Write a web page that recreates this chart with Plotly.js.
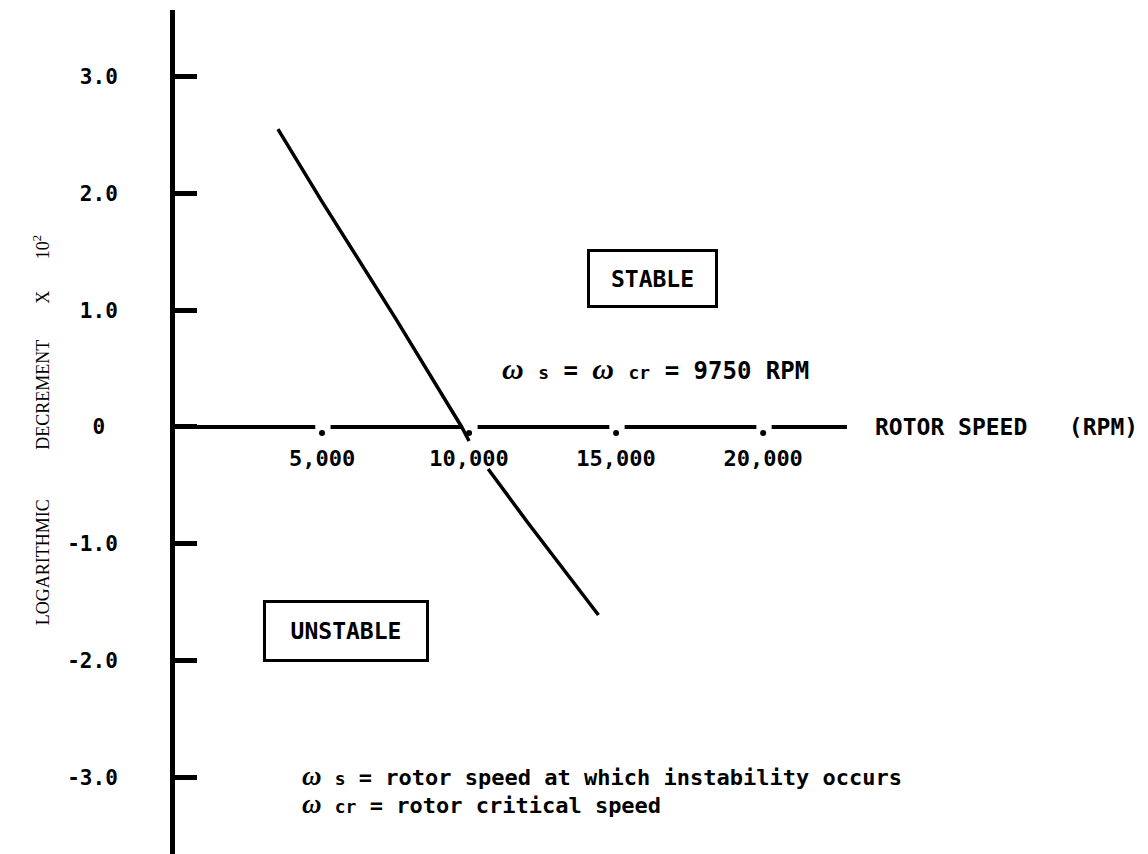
<!DOCTYPE html>
<html>
<head>
<meta charset="utf-8">
<script src="https://cdn.plot.ly/plotly-3.0.1.min.js"></script>
<style>
  html, body { margin: 0; padding: 0; background: #fff; }
  #chart { width: 1148px; height: 854px; }
</style>
</head>
<body>
<div id="chart"></div>
<script>
// Stability curve: logarithmic decrement (x 10^2) against rotor speed (RPM).
// The curve is broken where it passes behind the 10,000 label.
const speedUpper = [3500, 5000, 7500, 9750, 10000];
const decUpper   = [2.55, 1.93, 0.93, 0.0, -0.12];
const speedLower = [10650, 12000, 14400];
const decLower   = [-0.36, -0.82, -1.61];

const xTickVals = [5000, 10000, 15000, 20000];
const xTickText = ['5,000', '10,000', '15,000', '20,000'];
const yTickVals = [-3, -2, -1, 0, 1, 2, 3];
const yTickText = ['-3.0', '-2.0', '-1.0', '0\u00a0', '1.0', '2.0', '3.0'];
const axisEnd = 22850;          // where the drawn speed axis stops (RPM)
const criticalSpeed = 9750;     // RPM

// ---- geometry -------------------------------------------------------
const W = 1148, H = 854;
const margin = { l: 175, r: 32, t: 10, b: 0, pad: 0 };
const xRange = [0, 32000];
const yRange = [-3.656, 3.570];
const plotH = H - margin.t - margin.b;
const pxPerUnit = plotH / (yRange[1] - yRange[0]);
const zeroFrac = (0 - yRange[0]) / (yRange[1] - yRange[0]);

const ink = '#000';
const mono = 'DejaVu Sans Mono';
const serif = 'Liberation Serif';

// Speed axis drawn as dashes broken around each tick dot
const gapBefore = 230, gapAfter = 290;
const axX = [0], axY = [0];
xTickVals.forEach(v => {
  axX.push(v - gapBefore, null, v + gapAfter);
  axY.push(0, null, 0);
});
axX.push(axisEnd); axY.push(0);

// tick dots sit just under the axis line
const dotDropPx = 6;
const dotY = xTickVals.map(() => -dotDropPx / pxPerUnit);

const traces = [
  {
    x: axX, y: axY, mode: 'lines', connectgaps: false,
    line: { color: ink, width: 4 }, hoverinfo: 'skip', showlegend: false
  },
  {
    x: xTickVals, y: dotY, mode: 'markers',
    marker: { color: ink, size: 6 }, hoverinfo: 'skip', showlegend: false
  },
  {
    x: speedUpper.concat([null], speedLower),
    y: decUpper.concat([null], decLower),
    mode: 'lines', connectgaps: false,
    line: { color: ink, width: 3.5 }, showlegend: false
  }
];

const omega = size => '<span style="font-family:\'' + serif + '\';font-size:' + size + 'px"><i>ω</i></span>';
const small = (t, size) => '<span style="font-size:' + size + 'px">' + t + '</span>';
const sp = n => '\u00a0'.repeat(n);

const annotations = [
  {
    text: 'LOGARITHMIC' + sp(11) + 'DECREMENT' + sp(8) + 'X' + sp(7) + '10<sup>2</sup>',
    xref: 'paper', yref: 'y', x: -0.156, y: -0.03, textangle: -90,
    showarrow: false, font: { family: serif, size: 18, color: ink }
  },
  {
    text: 'ROTOR SPEED' + sp(3) + '(RPM)',
    xref: 'paper', yref: 'y', x: 1.025, xanchor: 'right', y: 0, yanchor: 'middle',
    showarrow: false, font: { family: mono, size: 23, weight: 'bold', color: ink }
  },
  {
    text: 'STABLE', x: 16224, y: 1.27, xref: 'x', yref: 'y',
    showarrow: false, width: 125, height: 53,
    bordercolor: ink, borderwidth: 3, borderpad: 0, bgcolor: '#fff',
    font: { family: mono, size: 23, weight: 'bold', color: ink }
  },
  {
    text: 'UNSTABLE', x: 5816, y: -1.747, xref: 'x', yref: 'y',
    showarrow: false, width: 160, height: 56,
    bordercolor: ink, borderwidth: 3, borderpad: 0, bgcolor: '#fff',
    font: { family: mono, size: 23, weight: 'bold', color: ink }
  },
  {
    text: omega(30) + sp(1) + small('s', 18) + ' = ' + omega(30) + sp(1) + small('cr', 18) + ' = ' + criticalSpeed + ' RPM',
    x: 11054, y: 0.497, xref: 'x', yref: 'y', xanchor: 'left', yanchor: 'middle',
    showarrow: false, font: { family: mono, size: 24, weight: 'bold', color: ink }
  },
  {
    text: omega(27) + sp(1) + small('s', 18) + ' = rotor speed at which instability occurs',
    x: 4250, y: -2.99, xref: 'x', yref: 'y', xanchor: 'left', yanchor: 'middle',
    showarrow: false, font: { family: mono, size: 22, weight: 'bold', color: ink }
  },
  {
    text: omega(27) + sp(1) + small('cr', 18) + ' = rotor critical speed',
    x: 4250, y: -3.225, xref: 'x', yref: 'y', xanchor: 'left', yanchor: 'middle',
    showarrow: false, font: { family: mono, size: 22, weight: 'bold', color: ink }
  }
];

const layout = {
  width: W, height: H, margin: margin,
  paper_bgcolor: '#fff', plot_bgcolor: '#fff',
  showlegend: false,
  xaxis: {
    range: xRange, showline: false, showgrid: false, zeroline: false,
    anchor: 'free', position: zeroFrac,
    tickmode: 'array', tickvals: xTickVals, ticktext: xTickText, ticks: '',
    ticklabelstandoff: 16,
    tickfont: { family: mono, size: 22, weight: 'bold', color: ink },
    fixedrange: true
  },
  yaxis: {
    range: yRange, showline: true, linewidth: 5, linecolor: ink,
    showgrid: false, zeroline: false,
    tickmode: 'array', tickvals: yTickVals, ticktext: yTickText,
    ticks: 'inside', ticklen: 22, tickwidth: 5, tickcolor: ink,
    ticklabelstandoff: 48,
    tickfont: { family: mono, size: 21, weight: 'bold', color: ink },
    fixedrange: true
  },
  annotations: annotations
};

Plotly.newPlot('chart', traces, layout, { staticPlot: true, displayModeBar: false });
</script>
</body>
</html>
